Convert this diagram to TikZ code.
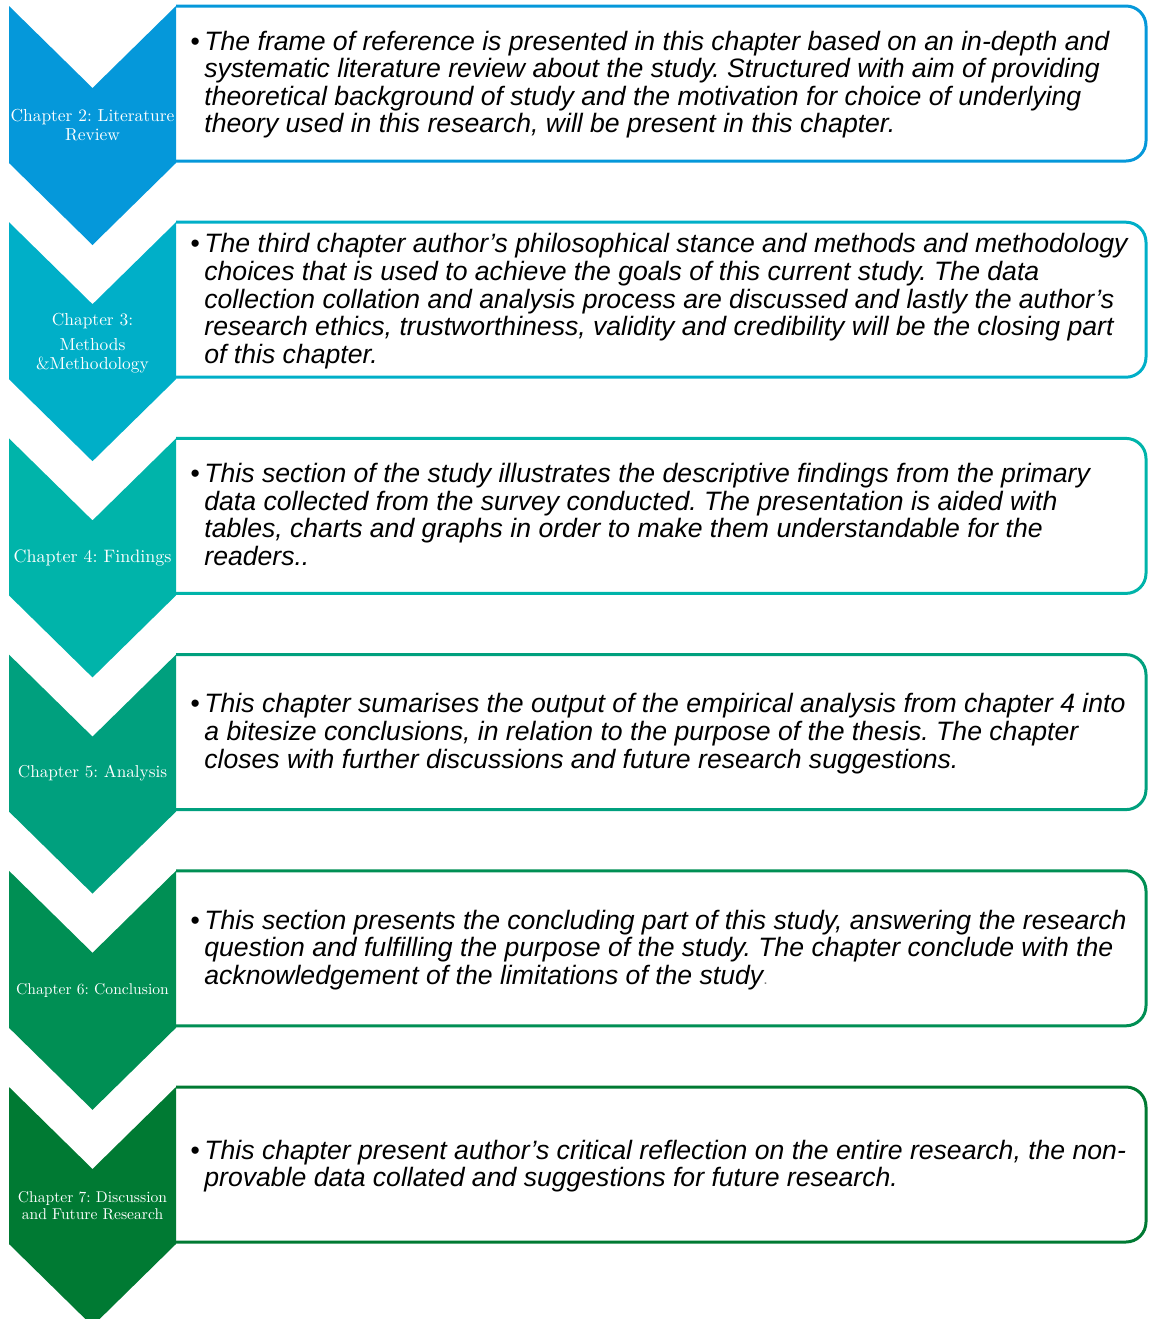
\documentclass[tikz,border=0pt]{standalone}
\usepackage{fontspec}
\newfontfamily\bodyfont{Liberation Sans}
\definecolor{chapA}{RGB}{5,152,218}
\definecolor{chapB}{RGB}{0,175,200}
\definecolor{chapC}{RGB}{0,180,170}
\definecolor{chapD}{RGB}{0,160,126}
\definecolor{chapE}{RGB}{0,143,84}
\definecolor{chapF}{RGB}{0,122,51}
% bullet paragraph with hanging lines
\newcommand{\bulletpar}[1]{\begin{tabular}{@{}p{7pt}@{}l@{}}\textbullet & #1\end{tabular}}

\tikzset{
  boxline/.style={line width=1.5pt, #1, rounded corners=10pt},
  chaplabel/.style={text=white, align=center, inner sep=0pt, transform shape, scale=0.87,
    font=\fontsize{10}{11.2}\selectfont},
  summary/.style={anchor=west, inner sep=0pt, font=\bodyfont\itshape\fontsize{13.3}{13.75}\selectfont}
}

\begin{document}
\frenchspacing
\begin{tikzpicture}[x=0.5pt, y=-0.5pt]
\useasboundingbox (0,0) rectangle (1148,1319);
\clip (0,0) rectangle (1148,1319);

% boxes and chevrons, one pair per chapter
\foreach \i/\c in {0/chapA,1/chapB,2/chapC,3/chapD,4/chapE,5/chapF} {
  \pgfmathsetmacro\t{6+216.2*\i}
  \draw[boxline=\c] (176,\t) -- (1146,\t) -- (1146,\t+155) -- (176,\t+155);
  \fill[\c] (9,\t) -- (92.5,\t+82) -- (176,\t) -- (176,\t+157)
     -- (92.5,\t+239) -- (9,\t+157) -- cycle;
}

% chevron labels
\node[chaplabel] (lab2) at (92.5,125) {Chapter 2: Literature\\Review};
\node[chaplabel] (lab3) at (92.5,343.5) {Chapter 3:\\[3pt]Methods\\\&Methodology};
\node[chaplabel, scale=0.9/0.87] (lab4) at (92.5,557.5) {Chapter 4: Findings};
\node[chaplabel, scale=0.86/0.87] (lab5) at (92.5,773.5) {Chapter 5: Analysis};
\node[chaplabel, scale=0.78/0.87] (lab6) at (92.5,990) {Chapter 6: Conclusion};
\node[chaplabel, scale=0.78/0.87, font=\fontsize{10}{10.9}\selectfont] (lab7) at (92.5,1206) {Chapter 7: Discussion\\and Future Research};

% summaries
\node[summary] (sum2) at (190,86) {\bulletpar{The frame of reference is presented in this chapter based on an in-depth and\\
  & systematic literature review about the study. Structured with aim of providing\\
  & theoretical background of study and the motivation for choice of underlying\\
  & theory used in this research, will be present in this chapter.}};
\node[summary] (sum3) at (190,302.5) {\bulletpar{The third chapter author’s philosophical stance and methods and methodology\\
  & choices that is used to achieve the goals of this current study. The data\\
  & collection collation and analysis process are discussed and lastly the author’s\\
  & research ethics, trustworthiness, validity and credibility will be the closing part\\
  & of this chapter.}};
\node[summary] (sum4) at (190,518.5) {\bulletpar{This section of the study illustrates the descriptive findings from the primary\\
  & data collected from the survey conducted. The presentation is aided with\\
  & tables, charts and graphs in order to make them understandable for the\\
  & readers..}};
\node[summary] (sum5) at (190,735) {\bulletpar{This chapter sumarises the output of the empirical analysis from chapter 4 into\\
  & a bitesize conclusions, in relation to the purpose of the thesis. The chapter\\
  & closes with further discussions and future research suggestions.}};
\node[summary] (sum6) at (190,951) {\bulletpar{This section presents the concluding part of this study, answering the research\\
  & question and fulfilling the purpose of the study. The chapter conclude with the\\
  & acknowledgement of the limitations of the study{\upshape\fontsize{8}{8}\selectfont\color{gray}.}}};
\node[summary] (sum7) at (190,1167.5) {\bulletpar{This chapter present author’s critical reflection on the entire research, the non-\\
  & provable data collated and suggestions for future research.}};

\end{tikzpicture}
\end{document}
